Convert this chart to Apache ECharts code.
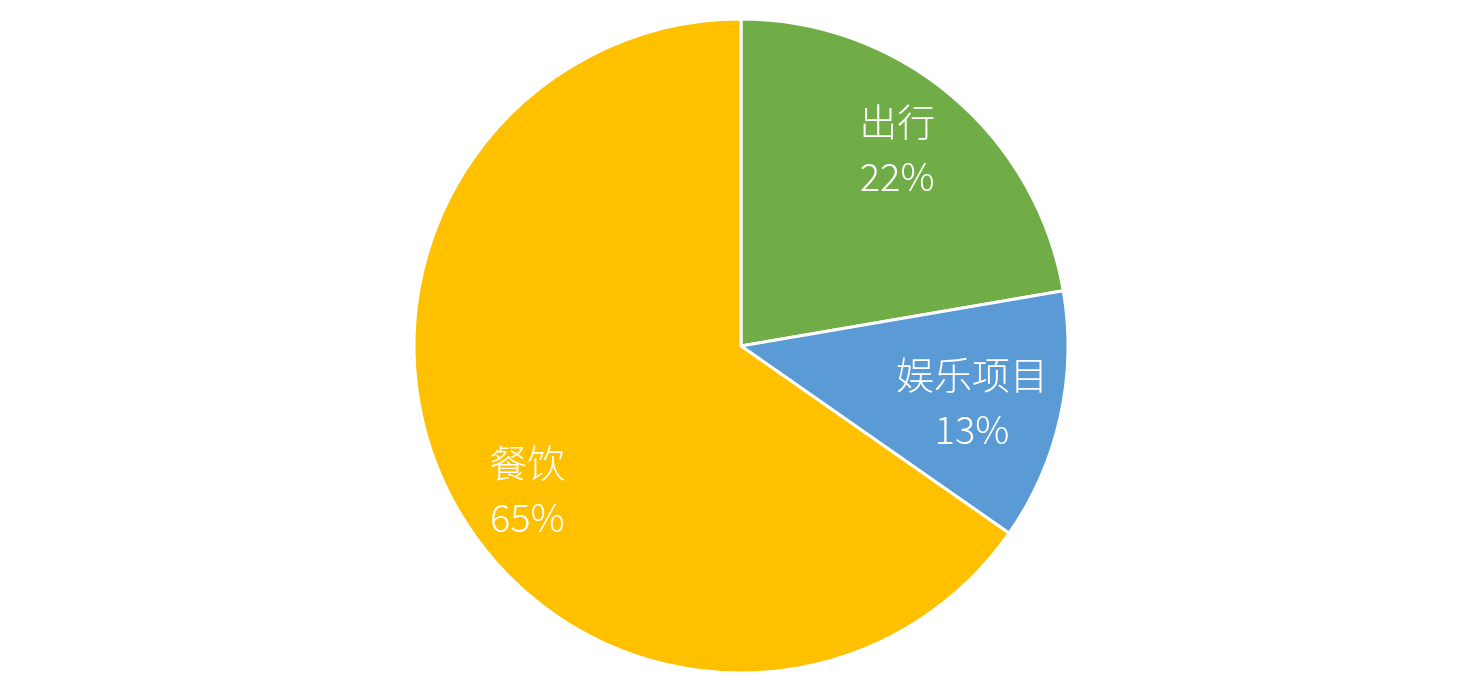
<!DOCTYPE html>
<html>
<head>
<meta charset="utf-8">
<script src="https://cdn.jsdelivr.net/npm/echarts@6/dist/echarts.min.js"></script>
<style>
  html, body { margin: 0; padding: 0; background: #fff; }
  #chart { width: 1474px; height: 692px; }
</style>
</head>
<body>
<div id="chart"></div>
<script>
// 数据
const categories = ['出行', '娱乐项目', '餐饮'];
const values = [22.3, 12.4, 65.3];
const colors = ['#70AD47', '#5B9BD5', '#FFC000'];
// 标签微调（像素）
const labelOffsets = [[-5, -6], [-13, 2], [8, 28]];

const dom = document.getElementById('chart');
const myChart = echarts.init(dom);

const options = {
    animation: false,
    series: [
        {
            // 扇区
            type: 'pie',
            center: [741, 346],
            radius: [0, 327],
            startAngle: 90,
            clockwise: true,
            silent: true,
            itemStyle: { borderColor: '#fff', borderWidth: 3 },
            label: { show: false },
            labelLine: { show: false },
            data: categories.map((name, i) => ({
                name: name,
                value: values[i],
                itemStyle: { color: colors[i] }
            }))
        },
        {
            // 透明的外层，只用来放标签
            type: 'pie',
            center: [741, 346],
            radius: [0, 494],
            startAngle: 90,
            clockwise: true,
            silent: true,
            percentPrecision: 0,
            itemStyle: { color: 'transparent', borderWidth: 0 },
            label: {
                show: true,
                position: 'inner',
                formatter: '{b}\n{d}%',
                color: '#fff',
                fontSize: 38,
                fontWeight: 300,
                lineHeight: 55,
                fontFamily: '"Noto Sans CJK SC", "Open Sans", sans-serif',
                align: 'center'
            },
            labelLine: { show: false },
            data: categories.map((name, i) => ({
                name: name,
                value: values[i],
                label: { offset: labelOffsets[i] }
            }))
        }
    ]
};
myChart.setOption(options);
</script>
</body>
</html>
